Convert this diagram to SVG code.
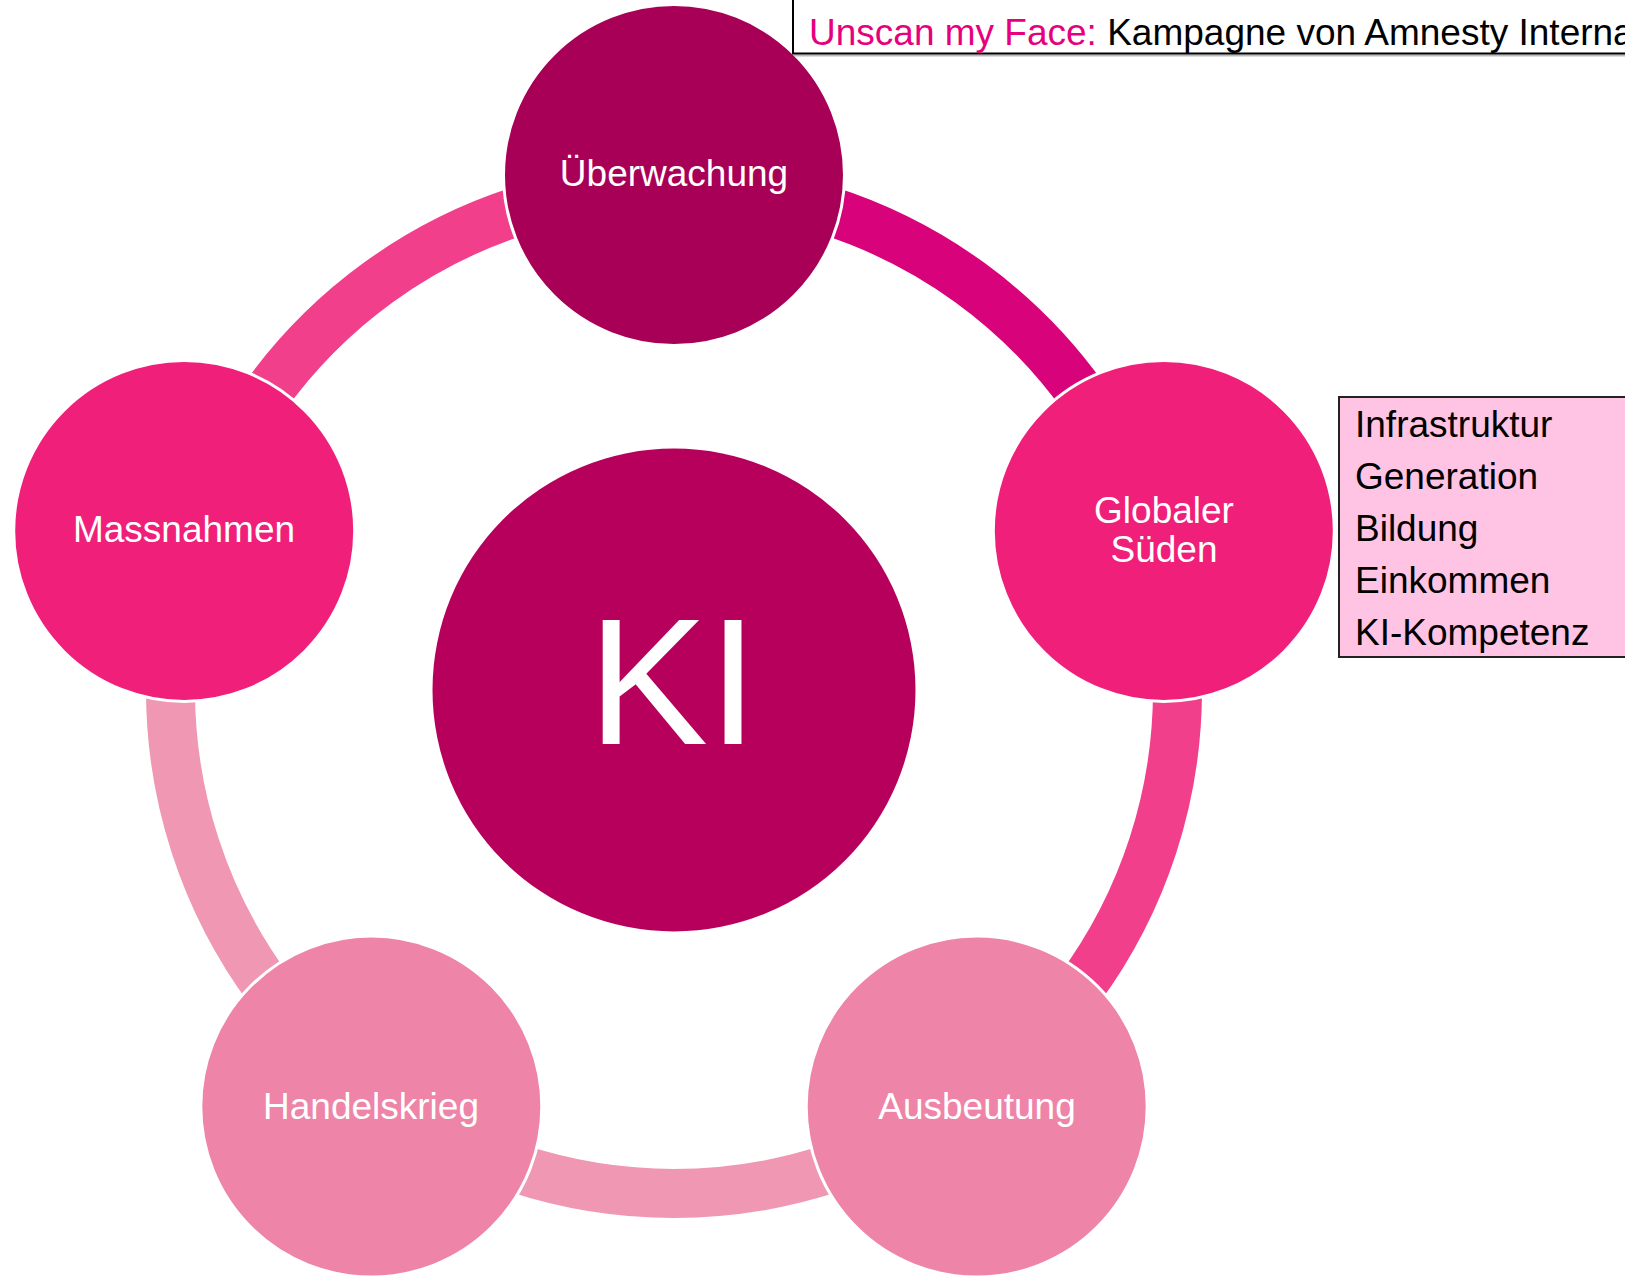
<svg xmlns="http://www.w3.org/2000/svg" width="1625" height="1276" viewBox="0 0 1625 1276">
  <style>
    .lbl { font-family: "Liberation Sans", Arial, sans-serif; font-size: 37px; fill: #ffffff; text-anchor: middle; }
    .box { font-family: "Liberation Sans", Arial, sans-serif; font-size: 37px; fill: #000000; }
    .arc { fill: none; stroke-width: 49; }
    .node { stroke: #ffffff; stroke-width: 3; }
  </style>
  <rect width="1625" height="1276" fill="#ffffff"/>

  <g id="connectors">
    <path class="arc" stroke="#D8037A" d="M 674 186.5 A 503.5 503.5 0 0 1 1152.86 534.41"/>
    <path class="arc" stroke="#F23F8C" d="M 1152.86 534.41 A 503.5 503.5 0 0 1 969.95 1097.34"/>
    <path class="arc" stroke="#EF97B3" d="M 969.95 1097.34 A 503.5 503.5 0 0 1 378.05 1097.34"/>
    <path class="arc" stroke="#EF97B3" d="M 378.05 1097.34 A 503.5 503.5 0 0 1 195.14 534.41"/>
    <path class="arc" stroke="#F23F8C" d="M 195.14 534.41 A 503.5 503.5 0 0 1 674 186.5"/>
  </g>

  <g id="node-ki">
    <circle cx="674" cy="690" r="241.5" fill="#B6005C"/>
    <text x="673" y="744" font-family="Liberation Sans, Arial, sans-serif" font-size="180" fill="#ffffff" text-anchor="middle">KI</text>
  </g>

  <g id="node-ueberwachung">
    <circle class="node" cx="674" cy="175" r="170.5" fill="#A80057"/>
    <text class="lbl" x="674" y="186">Überwachung</text>
  </g>

  <g id="node-globaler-sueden">
    <circle class="node" cx="1163.8" cy="530.9" r="170.5" fill="#F01F7A"/>
    <text class="lbl" x="1164" y="523">Globaler</text>
    <text class="lbl" x="1164" y="562">Süden</text>
  </g>

  <g id="node-ausbeutung">
    <circle class="node" cx="976.7" cy="1106.6" r="170.5" fill="#EE84A8"/>
    <text class="lbl" x="977" y="1119">Ausbeutung</text>
  </g>

  <g id="node-handelskrieg">
    <circle class="node" cx="371.3" cy="1106.6" r="170.5" fill="#EE84A8"/>
    <text class="lbl" x="371" y="1119">Handelskrieg</text>
  </g>

  <g id="node-massnahmen">
    <circle class="node" cx="184.2" cy="530.9" r="170.5" fill="#F01F7A"/>
    <text class="lbl" x="184" y="542">Massnahmen</text>
  </g>

  <g id="note-top">
    <line x1="794" y1="55.5" x2="1625" y2="55.5" stroke="#bbbbbb" stroke-width="2"/>
    <rect x="793" y="-10" width="900" height="63.5" fill="#ffffff" stroke="#000000" stroke-width="2"/>
    <text class="box" x="809" y="45"><tspan fill="#E6007E">Unscan my Face:</tspan> Kampagne von Amnesty International</text>
  </g>

  <g id="note-right">
    <rect x="1339" y="397" width="300" height="260" fill="#FFC4E4" stroke="#222222" stroke-width="2"/>
    <text class="box" x="1355" y="437">Infrastruktur</text>
    <text class="box" x="1355" y="489">Generation</text>
    <text class="box" x="1355" y="541">Bildung</text>
    <text class="box" x="1355" y="593">Einkommen</text>
    <text class="box" x="1355" y="645">KI-Kompetenz</text>
  </g>
</svg>
